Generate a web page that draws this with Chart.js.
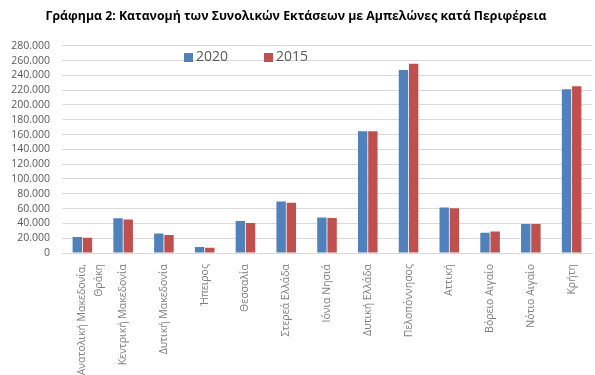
<!DOCTYPE html>
<html>
<head>
<meta charset="utf-8">
<script src="https://cdn.jsdelivr.net/npm/chart.js@4.4.1/dist/chart.umd.min.js"></script>
<style>
  html, body { margin: 0; padding: 0; background: #fff; }
  #wrap { width: 595px; height: 375px; position: relative; }
</style>
</head>
<body>
<div id="wrap"><canvas id="areaChart"></canvas></div>
<script>
const regions = [
    ["Ανατολική Μακεδονία,", "Θράκη"],
    "Κεντρική Μακεδονία",
    "Δυτική Μακεδονία",
    "Ήπειρος",
    "Θεσσαλία",
    "Στερεά Ελλάδα",
    "Ιόνια Νησιά",
    "Δυτική Ελλάδα",
    "Πελοπόννησος",
    "Αττική",
    "Βόρειο Αιγαίο",
    "Νότιο Αιγαίο",
    "Κρήτη"
];
const values2020 = [21700, 46900, 26200, 8100, 43400, 69500, 47800, 164400, 247400, 61400, 27500, 39300, 221300];
const values2015 = [20700, 45200, 24400, 7200, 40700, 67800, 47400, 164500, 255600, 60400, 28900, 39300, 225300];
const seriesLabels = ["2020", "2015"];
const yMax = 280000;
const yStep = 20000;

const fontFamily = "'Open Sans', 'Noto Sans', sans-serif";

// legend drawn inside the plot area, like the Excel original
const insideLegend = {
    id: "insideLegend",
    afterDraw(chart) {
        const ctx = chart.ctx;
        const items = [{ x: 184 }, { x: 264 }];
        ctx.save();
        ctx.font = "14px " + fontFamily;
        ctx.textBaseline = "middle";
        chart.data.datasets.forEach((ds, i) => {
            const x = items[i].x;
            const y = 57.5;
            ctx.fillStyle = ds.backgroundColor;
            ctx.fillRect(x, y - 4.5, 9, 9);
            ctx.fillStyle = "#595959";
            ctx.fillText(ds.label, x + 12, y);
        });
        ctx.restore();
    }
};

const ctx = document.getElementById("areaChart").getContext("2d");
const areaChart = new Chart(ctx, {
    type: "bar",
    data: {
        labels: regions,
        datasets: [{
            label: seriesLabels[0],
            data: values2020,
            backgroundColor: "#4F81BD",
            categoryPercentage: 0.5,
            barPercentage: 0.92
        }, {
            label: seriesLabels[1],
            data: values2015,
            backgroundColor: "#C0504D",
            categoryPercentage: 0.5,
            barPercentage: 0.92
        }]
    },
    options: {
        responsive: true,
        maintainAspectRatio: false,
        animation: false,
        layout: { padding: { left: 0, right: 3, top: 0, bottom: 0 } },
        plugins: {
            legend: { display: false },
            tooltip: { enabled: false },
            title: {
                display: true,
                text: "Γράφημα 2: Κατανομή των Συνολικών Εκτάσεων με Αμπελώνες κατά Περιφέρεια",
                color: "#000",
                font: { family: fontFamily, size: 12.3, weight: "bold" },
                padding: { top: 9, bottom: 22 }
            }
        },
        scales: {
            x: {
                grid: { display: false },
                border: { display: true, color: "#d9d9d9" },
                ticks: {
                    color: "#7f7f7f",
                    font: { family: fontFamily, size: 10.5, lineHeight: 1.6 },
                    minRotation: 90,
                    maxRotation: 90,
                    autoSkip: false,
                    padding: 3
                },
                afterFit(scale) { scale.height = 122; }
            },
            y: {
                min: 0,
                max: yMax,
                grid: { color: "#d9d9d9", drawTicks: false },
                border: { display: false },
                ticks: {
                    stepSize: yStep,
                    autoSkip: false,
                    color: "#595959",
                    padding: 12,
                    font: { family: fontFamily, size: 10.5 },
                    callback: v => v.toString().replace(/\B(?=(\d{3})+(?!\d))/g, ".")
                },
                afterFit(scale) { scale.width = 62; }
            }
        }
    },
    plugins: [insideLegend]
});
</script>
</body>
</html>
